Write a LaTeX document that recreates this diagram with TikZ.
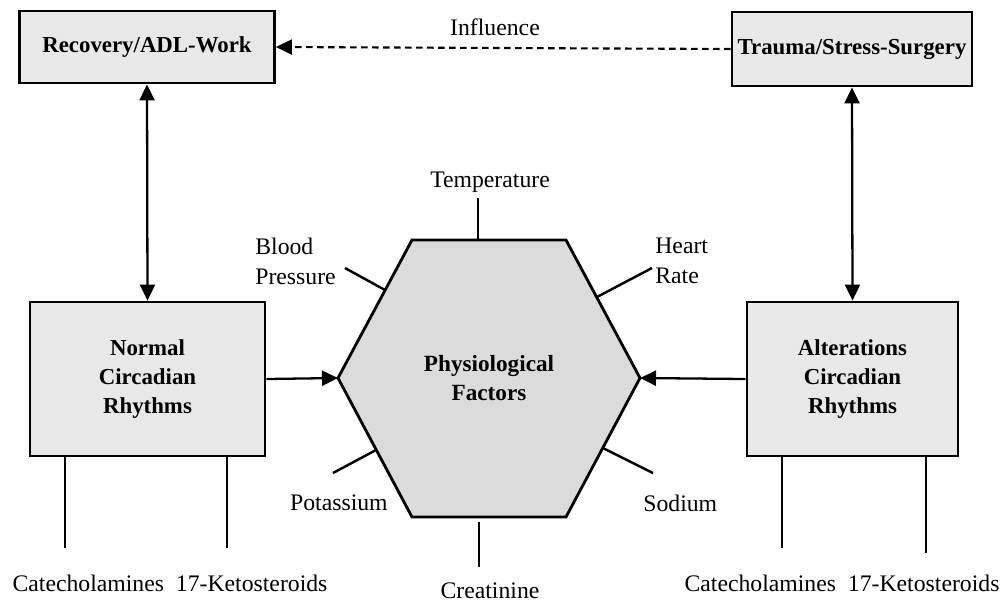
\documentclass[tikz,border=0pt]{standalone}
\usepackage{fontspec}
\setmainfont{Liberation Serif}
\usetikzlibrary{arrows.meta}
\definecolor{boxgray}{gray}{0.91}
\definecolor{hexgray}{gray}{0.86}
\begin{document}
\begin{tikzpicture}[x=0.02cm,y=-0.02cm,
  box/.style={draw, line width=1.6pt, fill=boxgray, inner sep=0pt, align=center,
    font=\fontsize{13}{14.4}\selectfont\bfseries},
  mbox/.style={box, font=\fontsize{13}{16.6}\selectfont\bfseries},
  lbl/.style={inner sep=0pt, font=\fontsize{13.5}{17}\selectfont},
  conn/.style={line width=1.3pt},
  ray/.style={line width=1.4pt},
  thin/.style={line width=1.1pt},
  tip/.style={-{Triangle[length=0.32cm,width=0.3cm]}},
  both/.style={{Triangle[length=0.32cm,width=0.3cm]}-{Triangle[length=0.32cm,width=0.3cm]}},
  dashline/.style={line width=1.2pt, dash pattern=on 0.13cm off 0.09cm}
]
\useasboundingbox (0,0) rectangle (1000,603);

% boxes
\node[box, minimum width=5.1cm, minimum height=1.44cm] (rec) at (147,47) {Recovery/ADL-Work};
\node[box, minimum width=4.8cm, minimum height=1.48cm] (trauma) at (852,49) {Trauma/Stress-Surgery};
\node[mbox, minimum width=4.7cm, minimum height=3.08cm] (normal) at (147.5,379) {Normal\\Circadian\\Rhythms};
\node[mbox, minimum width=4.22cm, minimum height=3.08cm] (alter) at (852.5,379) {Alterations\\Circadian\\Rhythms};

% hexagon
\coordinate (htl) at (412,240);
\coordinate (htr) at (566,240);
\coordinate (hr) at (640,378);
\coordinate (hbr) at (566,517);
\coordinate (hbl) at (412,517);
\coordinate (hl) at (338,378);
\draw[line width=1.6pt, fill=hexgray, line join=miter] (htl) -- (htr) -- (hr) -- (hbr) -- (hbl) -- (hl) -- cycle;
\node[inner sep=0pt, align=center, font=\fontsize{13.2}{16.6}\selectfont\bfseries] (phys) at (489,378) {Physiological\\Factors};

% connectors
\draw[conn, tip] (normal.east) -- (hl);
\draw[conn, tip] (alter.west) -- (hr);
\draw[conn, both] (rec.south) -- (normal.north);
\draw[conn, both] (trauma.south) -- (alter.north);
\draw[dashline, tip] (trauma.west) -- (rec.east);
\node[lbl] (infl) at (495,27) {Influence};

% rays of the hexagon
\coordinate (tA) at (478,198); \coordinate (tB) at (478,240);
\coordinate (bA) at (345,268); \coordinate (bB) at (385,290);
\coordinate (hA) at (652,268); \coordinate (hB) at (597,297);
\coordinate (pA) at (333,473); \coordinate (pB) at (376,450);
\coordinate (sA) at (653,473); \coordinate (sB) at (603,448);
\coordinate (cA) at (479,522); \coordinate (cB) at (479,567);
\draw[ray] (tA) -- (tB);
\draw[ray] (bA) -- (bB);
\draw[ray] (hA) -- (hB);
\draw[ray] (pA) -- (pB);
\draw[ray] (sA) -- (sB);
\draw[ray] (cA) -- (cB);

\node[lbl] (temp) at (490,182) {Temperature};
\node[lbl] (crea) at (490,591) {Creatinine};
\node[lbl, anchor=east] (pot) at (388,503) {Potassium};
\node[lbl, anchor=west] (sod) at (643,503) {Sodium};
\node[lbl, anchor=west, align=left] (bp) at (255,261) {Blood\\Pressure};
\node[lbl, anchor=west, align=left] (hrt) at (655,261) {Heart\\Rate};

% lines below the boxes
\coordinate (nl) at (65,548); \coordinate (nr) at (227,548);
\coordinate (al) at (782,548); \coordinate (ar) at (926,553);
\draw[thin] (normal.south -| nl) -- (nl);
\draw[thin] (normal.south -| nr) -- (nr);
\draw[thin] (alter.south -| al) -- (al);
\draw[thin] (alter.south -| ar) -- (ar);
\node[lbl] (catl) at (170,583) {Catecholamines\hspace{0.5em}17-Ketosteroids};
\node[lbl] (catr) at (842,583) {Catecholamines\hspace{0.5em}17-Ketosteroids};
\end{tikzpicture}
\end{document}
